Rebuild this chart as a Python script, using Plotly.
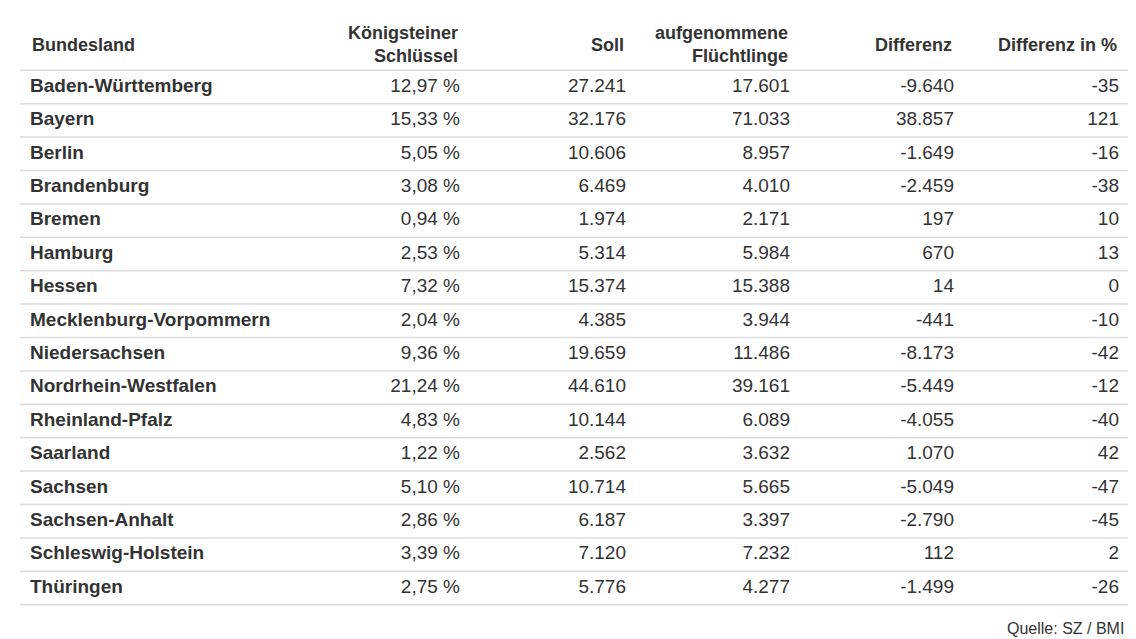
import plotly.graph_objects as go

laender = ['Baden-Württemberg', 'Bayern', 'Berlin', 'Brandenburg', 'Bremen', 'Hamburg',
           'Hessen', 'Mecklenburg-Vorpommern', 'Niedersachsen', 'Nordrhein-Westfalen',
           'Rheinland-Pfalz', 'Saarland', 'Sachsen', 'Sachsen-Anhalt', 'Schleswig-Holstein',
           'Thüringen']
schluessel = ['12,97 %', '15,33 %', '5,05 %', '3,08 %', '0,94 %', '2,53 %', '7,32 %', '2,04 %',
              '9,36 %', '21,24 %', '4,83 %', '1,22 %', '5,10 %', '2,86 %', '3,39 %', '2,75 %']
soll = ['27.241', '32.176', '10.606', '6.469', '1.974', '5.314', '15.374', '4.385',
        '19.659', '44.610', '10.144', '2.562', '10.714', '6.187', '7.120', '5.776']
aufgenommen = ['17.601', '71.033', '8.957', '4.010', '2.171', '5.984', '15.388', '3.944',
               '11.486', '39.161', '6.089', '3.632', '5.665', '3.397', '7.232', '4.277']
differenz = ['-9.640', '38.857', '-1.649', '-2.459', '197', '670', '14', '-441',
             '-8.173', '-5.449', '-4.055', '1.070', '-5.049', '-2.790', '112', '-1.499']
diff_pct = ['-35', '121', '-16', '-38', '10', '13', '0', '-10',
            '-42', '-12', '-40', '42', '-47', '-45', '2', '-26']
header = ['Bundesland', 'Königsteiner<br>Schlüssel', 'Soll', 'aufgenommene<br>Flüchtlinge',
          'Differenz', 'Differenz in %']

W, H = 1136, 639
FONT = 'Liberation Sans, Arial'
row_h = 33.4
first_c = 79
col_x = [22, 452, 618, 782, 946, 1111]   # left edge for col 0, right edge for others
rows = list(range(len(laender)))

fig = go.Figure()
columns = [[f'<b>{l}</b>' for l in laender], schluessel, soll, aufgenommen, differenz, diff_pct]
for i, col in enumerate(columns):
    fig.add_trace(go.Scatter(
        x=[col_x[i]] * len(col), y=rows, text=col, mode='text',
        textposition='middle right' if i == 0 else 'middle left',
        textfont=dict(family=FONT, size=19, color='#333'),
        cliponaxis=False, showlegend=False, hoverinfo='skip'))

for i, h in enumerate(header):
    fig.add_annotation(text=f'<b>{h}</b>', x=col_x[i], y=-1.27, xref='x', yref='y',
                       xanchor='left' if i == 0 else 'right', yanchor='middle',
                       align='left' if i == 0 else 'right', showarrow=False,
                       font=dict(family=FONT, size=18, color='#333'))

for k in range(len(laender) + 1):
    fig.add_shape(type='line', xref='x', yref='y', x0=12, x1=1120,
                  y0=k - 0.5, y1=k - 0.5, line=dict(color='#dcdcdc', width=1.5), layer='below')

fig.add_annotation(text='Quelle: SZ / BMI', x=1118, y=(620 - first_c) / row_h,
                   xref='x', yref='y', xanchor='right', yanchor='middle', showarrow=False,
                   font=dict(family=FONT, size=16, color='#333'))

fig.update_xaxes(range=[0, W], visible=False)
fig.update_yaxes(range=[(H - first_c) / row_h, -first_c / row_h], visible=False)
fig.update_layout(width=W, height=H, margin=dict(l=0, r=0, t=0, b=0),
                  paper_bgcolor='white', plot_bgcolor='white')
fig.write_html('out.html')
